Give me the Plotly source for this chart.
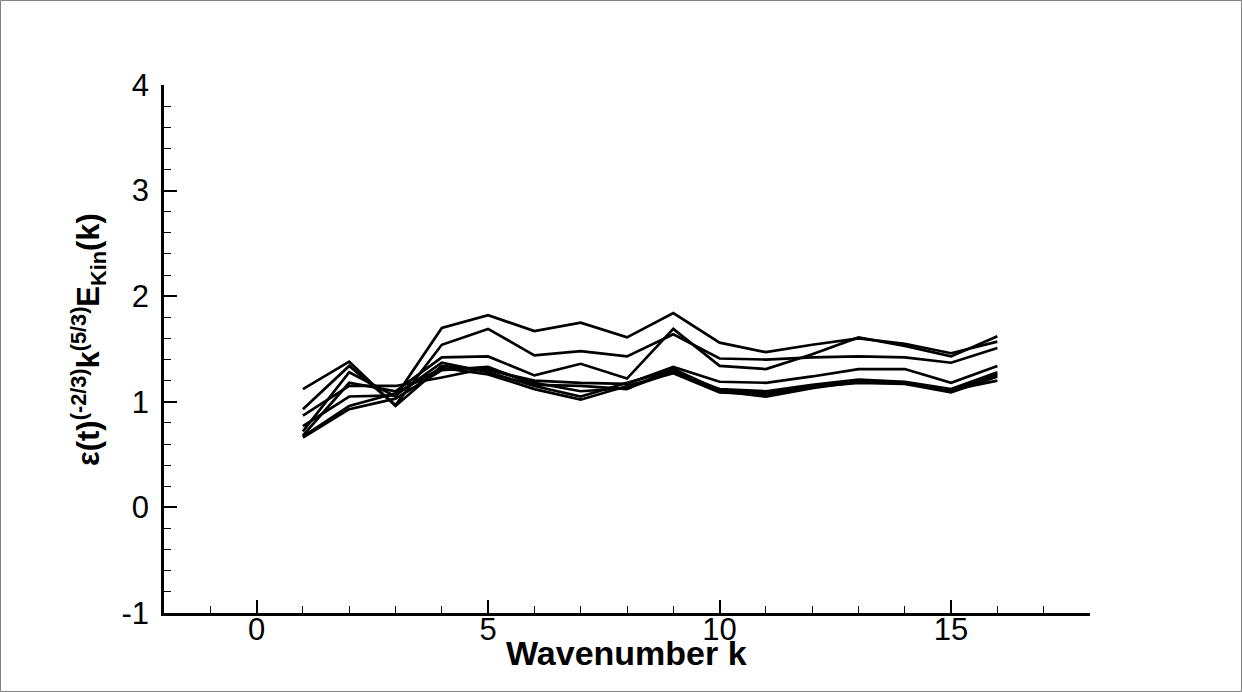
import plotly.graph_objects as go

k = list(range(1, 17))
s1 = [0.72, 1.28, 1.05, 1.70, 1.82, 1.67, 1.75, 1.61, 1.84, 1.56, 1.47, 1.54, 1.60, 1.55, 1.46, 1.57]
s2 = [0.93, 1.34, 0.97, 1.54, 1.69, 1.44, 1.48, 1.43, 1.64, 1.41, 1.40, 1.42, 1.43, 1.42, 1.37, 1.51]
s3 = [0.68, 1.18, 1.10, 1.42, 1.43, 1.25, 1.36, 1.22, 1.69, 1.34, 1.31, 1.45, 1.61, 1.53, 1.43, 1.62]
s4 = [1.12, 1.38, 0.96, 1.34, 1.30, 1.20, 1.18, 1.17, 1.33, 1.19, 1.18, 1.24, 1.31, 1.31, 1.18, 1.34]
s5 = [0.87, 1.15, 1.15, 1.23, 1.32, 1.18, 1.10, 1.13, 1.28, 1.12, 1.10, 1.16, 1.21, 1.19, 1.12, 1.28]
s6 = [0.77, 1.05, 1.06, 1.37, 1.28, 1.15, 1.05, 1.18, 1.30, 1.10, 1.05, 1.13, 1.19, 1.18, 1.10, 1.26]
s7 = [0.67, 0.96, 1.08, 1.32, 1.26, 1.12, 1.02, 1.15, 1.27, 1.09, 1.07, 1.14, 1.18, 1.17, 1.09, 1.24]
s8 = [0.66, 0.93, 1.03, 1.30, 1.33, 1.16, 1.15, 1.12, 1.31, 1.11, 1.08, 1.15, 1.20, 1.18, 1.11, 1.20]
series = [s1, s2, s3, s4, s5, s6, s7, s8]

x_tickvals = [0, 5, 10, 15]
x_ticktext = ["0", "5", "10", "15"]
y_tickvals = [-1, 0, 1, 2, 3, 4]
y_ticktext = ["-1", "0", "1", "2", "3", "4"]

x_title = "<b>Wavenumber k</b>"
y_title = "<b>\u03b5(t)<sup>(-2/3)</sup>k<sup>(5/3)</sup>E<sub>Kin</sub>(k)</b>"

FONT = "Liberation Sans"
W, H = 1242, 692
L, R, T, B = 164, 152, 85, 79
pw, ph = W - L - R, H - T - B

fig = go.Figure()
for s in series:
    fig.add_trace(go.Scatter(x=k, y=s, mode="lines",
                             line=dict(color="black", width=2.7),
                             showlegend=False, hoverinfo="skip"))

axis_common = dict(showgrid=False, zeroline=False, showline=True,
                   linecolor="black", linewidth=2.5, ticks="inside",
                   tickcolor="black", tickwidth=1.5, ticklen=13,
                   tickfont=dict(family=FONT, size=31, color="black"),
                   mirror=False)

fig.update_xaxes(range=[-2, 18], tickmode="array", tickvals=x_tickvals,
                 ticktext=x_ticktext,
                 minor=dict(ticks="inside", ticklen=7, dtick=1, tick0=0,
                            tickcolor="black", tickwidth=1),
                 ticklabelstandoff=-13, **axis_common)
fig.update_yaxes(range=[-1, 4], tickmode="array", tickvals=y_tickvals,
                 ticktext=y_ticktext,
                 minor=dict(ticks="inside", ticklen=7, dtick=0.2, tick0=0,
                            tickcolor="black", tickwidth=1),
                 ticklabelstandoff=6, **axis_common)

fig.add_annotation(text=x_title, xref="paper", yref="paper",
                   x=(626 - L) / pw, y=(T + ph - 653) / ph,
                   xanchor="center", yanchor="middle", showarrow=False,
                   font=dict(family=FONT, size=34, color="black"))
fig.add_annotation(text=y_title, xref="paper", yref="paper",
                   x=(88 - L) / pw, y=(T + ph - 340) / ph, textangle=-90,
                   xanchor="center", yanchor="middle", showarrow=False,
                   font=dict(family=FONT, size=31, color="black"))

fig.add_shape(type="rect", xref="paper", yref="paper",
              x0=(0.5 - L) / pw, x1=(W - 0.5 - L) / pw,
              y0=(T + ph - (H - 0.5)) / ph, y1=(T + ph - 0.5) / ph,
              line=dict(color="#808080", width=1), fillcolor="rgba(0,0,0,0)",
              layer="below")

fig.update_layout(width=W, height=H, margin=dict(l=L, r=R, t=T, b=B),
                  plot_bgcolor="white", paper_bgcolor="white",
                  font=dict(family=FONT, color="black"))

fig.write_html("out.html")
